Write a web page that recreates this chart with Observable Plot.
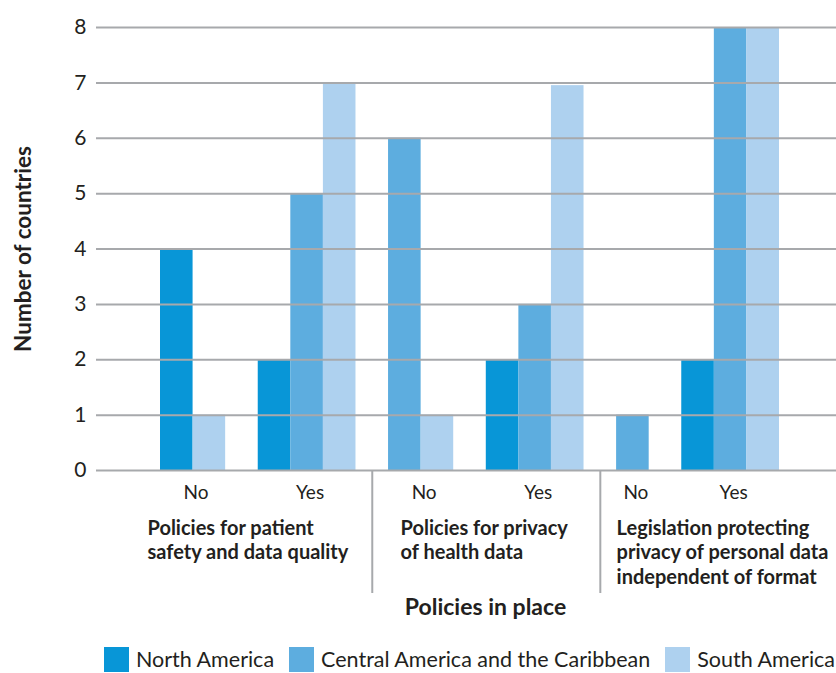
<!DOCTYPE html>
<html>
<head>
<meta charset="utf-8">
<script src="https://cdn.jsdelivr.net/npm/d3@7"></script>
<script src="https://cdn.jsdelivr.net/npm/@observablehq/plot@0.6"></script>
<style>
  html, body { margin: 0; padding: 0; background: #fff; }
  body { width: 836px; font-family: Lato, "Open Sans", sans-serif; color: #231f20; }
  #chart svg { display: block; overflow: visible; }
  #legend { display: flex; align-items: center; padding-left: 104px; padding-top: 7px; font-size: 21.5px; line-height: 25px; white-space: nowrap; }
  #legend .item { display: flex; align-items: center; margin-right: 15px; }
  #legend .sw { width: 25px; height: 25px; margin-right: 7px; flex: none; }
</style>
</head>
<body>
<div id="chart"></div>
<div id="legend"></div>
<script>
// ---- data ----
const groups = [
  "Policies for patient\nsafety and data quality",
  "Policies for privacy\nof health data",
  "Legislation protecting\nprivacy of personal data\nindependent of format"
];
const answers = ["No", "Yes"];
const series = ["North America", "Central America and the Caribbean", "South America"];
// values per (group, answer): G1 No, G1 Yes, G2 No, G2 Yes, G3 No, G3 Yes
const northAmerica   = [4, 2, 0, 2, 0, 2];
const centralAmerica = [0, 5, 6, 3, 1, 8];
const southAmerica   = [1, 7, 1, 6.95, 0, 8];
const yTicks = [0, 1, 2, 3, 4, 5, 6, 7, 8];
const yTitle = "Number of countries";
const xTitle = "Policies in place";

// ---- styles / layout ----
const colors = ["#0896d7", "#5daddf", "#aed1ef"];
const gridColor = "#a7a9ac";
const ink = "#231f20";
const W = 836, H = 640;
const mL = 96, mR = 0, mT = 27, mB = 170;
const barRange = [160, 779];
const groupLabelDx = [-13, 12, 0];

// ---- build table ----
const seriesValues = [northAmerica, centralAmerica, southAmerica];
const rows = [];
const domain = [];
const clusters = [];
const groupSeps = [];
let gapCount = 0;
groups.forEach((g, gi) => {
  answers.forEach((a, ai) => {
    const slot = gi * answers.length + ai;
    if (domain.length) {
      const gk = "gap" + (gapCount++);
      domain.push(gk);
      if (ai === 0) groupSeps.push(gk);
    }
    const keys = [];
    series.forEach((s, si) => {
      const v = seriesValues[si][slot];
      if (v > 0) {
        const key = g + "|" + a + "|" + s;
        domain.push(key);
        keys.push(key);
        rows.push({key, group: g, answer: a, series: s, value: v});
      }
    });
    clusters.push({first: keys[0], n: keys.length, answer: a, group: g, gi, ai});
  });
});
const bw = (barRange[1] - barRange[0]) / domain.length;
const pxPerUnit = (H - mB - mT) / 8;

const answerMarks = clusters.map(c =>
  Plot.text([c], {x: "first", y: () => 0, text: "answer", dx: (c.n - 1) / 2 * bw + 3, dy: 22,
    fontSize: 19, fill: ink}));
const groupMarks = clusters.filter(c => c.ai === 0).map(c =>
  Plot.text([c], {x: "first", y: () => 0, text: "group", textAnchor: "start", lineAnchor: "top",
    dx: -bw / 2 + groupLabelDx[c.gi], dy: 47, fontSize: 20, fontWeight: "bold", lineHeight: 1.225, fill: ink}));

const plot = Plot.plot({
  width: W, height: H,
  marginLeft: mL, marginRight: mR, marginTop: mT, marginBottom: mB,
  style: {fontFamily: "Lato, 'Open Sans', sans-serif", color: ink, overflow: "visible"},
  x: {type: "band", domain, range: barRange, padding: 0, round: false, axis: null},
  y: {domain: [0, 8], axis: null},
  color: {domain: series, range: colors},
  marks: [
    Plot.barY(rows, {x: "key", y: "value", fill: "series", inset: 0}),
    Plot.ruleY(yTicks, {stroke: gridColor, strokeWidth: 2}),
    Plot.axisY(yTicks, {tickSize: 0, tickPadding: 10, fontSize: 21, label: null, fill: ink, tickFormat: d => String(d)}),
    Plot.ruleX(groupSeps, {x: d => d, y1: 0, y2: -123 / pxPerUnit, stroke: gridColor, strokeWidth: 2}),
    ...answerMarks,
    ...groupMarks,
    Plot.text([xTitle], {frameAnchor: "bottom", dx: 19, dy: 144, fontSize: 23, fontWeight: "bold", fill: ink}),
    Plot.text([yTitle], {frameAnchor: "left", textAnchor: "middle", rotate: -90, dx: -73, fontSize: 22.5, fontWeight: "bold", fill: ink})
  ]
});
document.getElementById("chart").appendChild(plot);

// legend built from the same series / colour scale
const colorScale = plot.scale("color");
const legend = d3.select("#legend");
series.forEach(s => {
  const item = legend.append("div").attr("class", "item");
  item.append("div").attr("class", "sw").style("background", colorScale.apply(s));
  item.append("span").text(s);
});
</script>
</body>
</html>
